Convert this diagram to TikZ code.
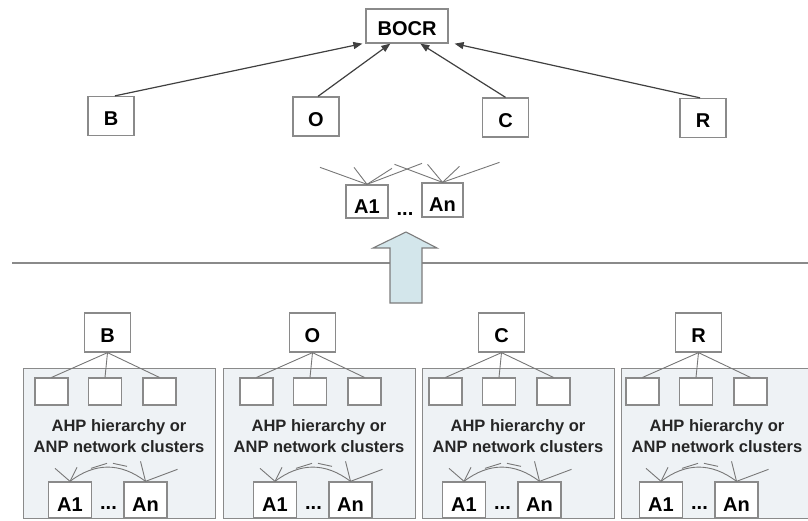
\documentclass[tikz,border=0pt]{standalone}
\usepackage{fontspec}
\setmainfont{Liberation Sans}
\usetikzlibrary{arrows.meta,calc}

\definecolor{framegray}{HTML}{8A8A8A}
\definecolor{wiregray}{HTML}{777777}
\definecolor{panelblue}{HTML}{EEF2F5}
\definecolor{arrowblue}{HTML}{D3E6EB}

\tikzset{
	box/.style={draw=framegray, line width=1.3pt, fill=white, inner sep=0pt, text height=20pt, text depth=0pt, font=\fontsize{20}{22}\selectfont\bfseries},
	crit/.style={box, minimum width=46pt, minimum height=39pt},
	subbox/.style={draw=framegray, line width=1.1pt, fill=white, minimum width=33pt, minimum height=27pt, inner sep=0pt},
	altbox/.style={box, minimum width=43pt, minimum height=36pt, text height=22pt},
	dots/.style={anchor=base, inner sep=0pt, font=\fontsize{20}{22}\selectfont\bfseries},
	panel/.style={draw=framegray, line width=1.3pt, fill=panelblue, anchor=north west, minimum width=192pt, minimum height=150pt, inner sep=0pt},
	toward/.style={draw=black!75, line width=1.2pt, -{Triangle[length=9pt,width=7pt]}},
	wire/.style={draw=wiregray, line width=0.9pt},
}

\begin{document}
\begin{tikzpicture}[x=1pt, y=-1pt]
	\useasboundingbox (0,0) rectangle (808,521);

	\node[box, minimum width=82pt, minimum height=34pt] (bocr) at (407,26) {BOCR};

	\node[crit] (b) at (111,116) {B};
	\node[crit] (o) at (316,116.5) {O};
	\node[crit] (c) at (505.5,117.5) {C};
	\node[crit] (r) at (703,118) {R};

	\draw[toward] ($(b.north)+(4,0)$) -- ($(bocr.south west)+(-3,0)$);
	\draw[toward] ($(o.north)+(2,0)$) -- ($(bocr.south west)!0.3!(bocr.south east)$);
	\draw[toward] (c.north) -- ($(bocr.south west)!0.66!(bocr.south east)$);
	\draw[toward] ($(r.north)+(-3,0)$) -- ($(bocr.south east)+(6,0)$);

	\node[box, minimum width=42pt, minimum height=33pt, text height=24pt] (a1) at (367,201.5) {A1};
	\node[box, minimum width=41pt, minimum height=34pt, text height=24pt] (an) at (442.5,200) {An};
	\node[dots] (mdots) at (405,216) {...};
	\foreach \dx/\dy in {-47/-17, -13/-17, 25/-16, 55/-21}
		\draw[wire] (a1.north) -- ++(\dx,\dy);
	\foreach \dx/\dy in {-48/-18, -15/-18, 17/-16, 57/-20}
		\draw[wire] (an.north) -- ++(\dx,\dy);

	\draw[draw=framegray, line width=1.3pt] (12,263) -- (808,263);
	\draw[draw=framegray!90!black, line width=1.1pt, fill=arrowblue]
		(406,232) -- (437,248) -- (422,248) -- (422,303) -- (390,303) -- (390,248) -- (373,248) -- cycle;

	\foreach \i/\px/\cx/\lab in {1/23/107.5/B, 2/223/312.5/O, 3/422/501.5/C, 4/621/698.5/R} {
		\node[panel] (panel\i) at (\px,368) {};
		\node[crit] (crit\i) at (\cx,332.5) {\lab};
		\node[subbox] (sub\i-1) at (\cx-56,391.5) {};
		\node[subbox] (sub\i-2) at (\cx-2.5,391.5) {};
		\node[subbox] (sub\i-3) at (\cx+52,391.5) {};
		\foreach \k in {1,2,3}
			\draw[wire] (crit\i.south) -- (sub\i-\k.north);
		\node[align=center, text=black!85, font=\fontsize{16.5}{21}\selectfont\bfseries] (txt\i) at (\px+96,436) {AHP hierarchy or\\ANP network clusters};
		\node[altbox] (alt\i-1) at (\cx-37.5,500) {A1};
		\node[altbox] (alt\i-2) at (\cx+38,500) {An};
		\node[dots] (dots\i) at (\cx+1,509) {...};
		\draw[wire] (alt\i-1.north) -- ++(-15,-13);
		\draw[wire] (alt\i-1.north) -- ++(7,-14);
		\draw[wire] (alt\i-1.north) .. controls +(25,-19) and +(-25,-19) .. (alt\i-2.north);
		\draw[wire] ($(alt\i-1.north)+(21,-13)$) -- ++(16,-5);
		\draw[wire] ($(alt\i-1.north)+(43,-18)$) -- ++(14,3);
		\draw[wire] (alt\i-2.north) -- ++(-5,-20);
		\draw[wire] (alt\i-2.north) -- ++(32,-12);
	}
\end{tikzpicture}
\end{document}
